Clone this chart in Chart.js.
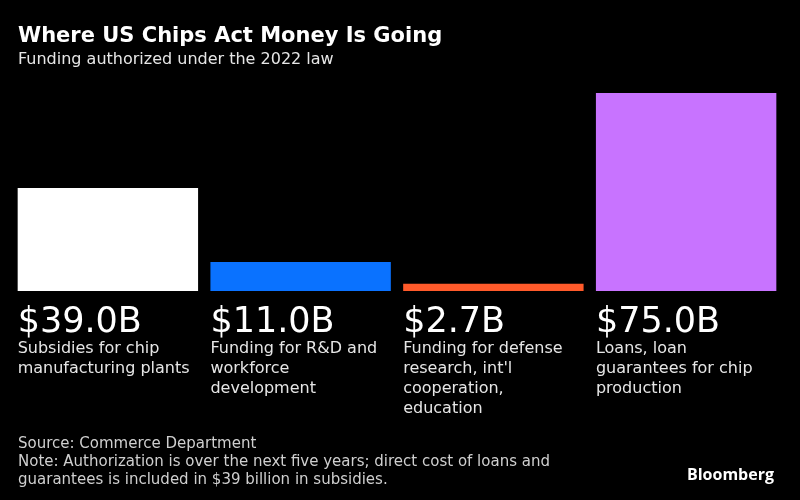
<!DOCTYPE html>
<html>
<head>
<meta charset="utf-8">
<script src="https://cdn.jsdelivr.net/npm/chart.js@4/dist/chart.umd.min.js"></script>
<style>
html,body{margin:0;padding:0;background:#000;}
#wrap{position:relative;width:800px;height:500px;background:#000;overflow:hidden;}
#c{position:absolute;left:0;top:0;}
.t{position:absolute;left:18px;white-space:nowrap;margin:0;}
#title{top:25px;font:bold 21px/21px "DejaVu Sans",sans-serif;color:#fff;}
#subtitle{top:51px;font:16px/16px "DejaVu Sans",sans-serif;color:#e6e6e6;}
#footer{top:434px;font:15px/18px "DejaVu Sans",sans-serif;color:#cfcfcf;}
#logo{position:absolute;right:26px;top:466px;font:bold 16px/16px "Open Sans",sans-serif;color:#fff;}
</style>
</head>
<body>
<div id="wrap">
  <canvas id="c" width="800" height="500"></canvas>
  <div class="t" id="title">Where US Chips Act Money Is Going</div>
  <div class="t" id="subtitle">Funding authorized under the 2022 law</div>
  <div class="t" id="footer">Source: Commerce Department<br>Note: Authorization is over the next five years; direct cost of loans and<br>guarantees is included in $39 billion in subsidies.</div>
  <div id="logo">Bloomberg</div>
</div>
<script>
const categories = ['Subsidies', 'R&D and workforce', 'Defense research', 'Loans'];
const values = [39.0, 11.0, 2.7, 75.0];
const descriptions = [
  ['Subsidies for chip', 'manufacturing plants'],
  ['Funding for R&D and', 'workforce', 'development'],
  ['Funding for defense', "research, int'l", 'cooperation,', 'education'],
  ['Loans, loan', 'guarantees for chip', 'production']
];
const barColors = ['#ffffff', '#0a72ff', '#ff5a2a', '#c873ff'];

const labelPlugin = {
  id: 'barLabels',
  afterDatasetsDraw(chart) {
    const ctx = chart.ctx;
    const meta = chart.getDatasetMeta(0);
    ctx.save();
    ctx.textAlign = 'left';
    ctx.textBaseline = 'alphabetic';
    meta.data.forEach((bar, i) => {
      const left = bar.x - bar.width / 2;
      const base = bar.base;
      ctx.fillStyle = '#ffffff';
      ctx.font = '35px "DejaVu Sans", sans-serif';
      ctx.fillText('$' + values[i].toFixed(1) + 'B', left, base + 41);
      ctx.fillStyle = '#e6e6e6';
      ctx.font = '16px "DejaVu Sans", sans-serif';
      descriptions[i].forEach((line, j) => {
        ctx.fillText(line, left, base + 62 + 20 * j);
      });
    });
    ctx.restore();
  }
};

new Chart(document.getElementById('c'), {
  type: 'bar',
  data: {
    labels: categories,
    datasets: [{
      data: values,
      backgroundColor: barColors,
      borderWidth: 0,
      barPercentage: 0.936,
      categoryPercentage: 1
    }]
  },
  options: {
    responsive: false,
    devicePixelRatio: 1,
    animation: false,
    layout: { padding: { left: 11.5, right: 17.5, top: 93, bottom: 209 } },
    scales: {
      x: { display: false },
      y: { display: false, min: 0, max: 75 }
    },
    plugins: { legend: { display: false }, tooltip: { enabled: false } }
  },
  plugins: [labelPlugin]
});
</script>
</body>
</html>
